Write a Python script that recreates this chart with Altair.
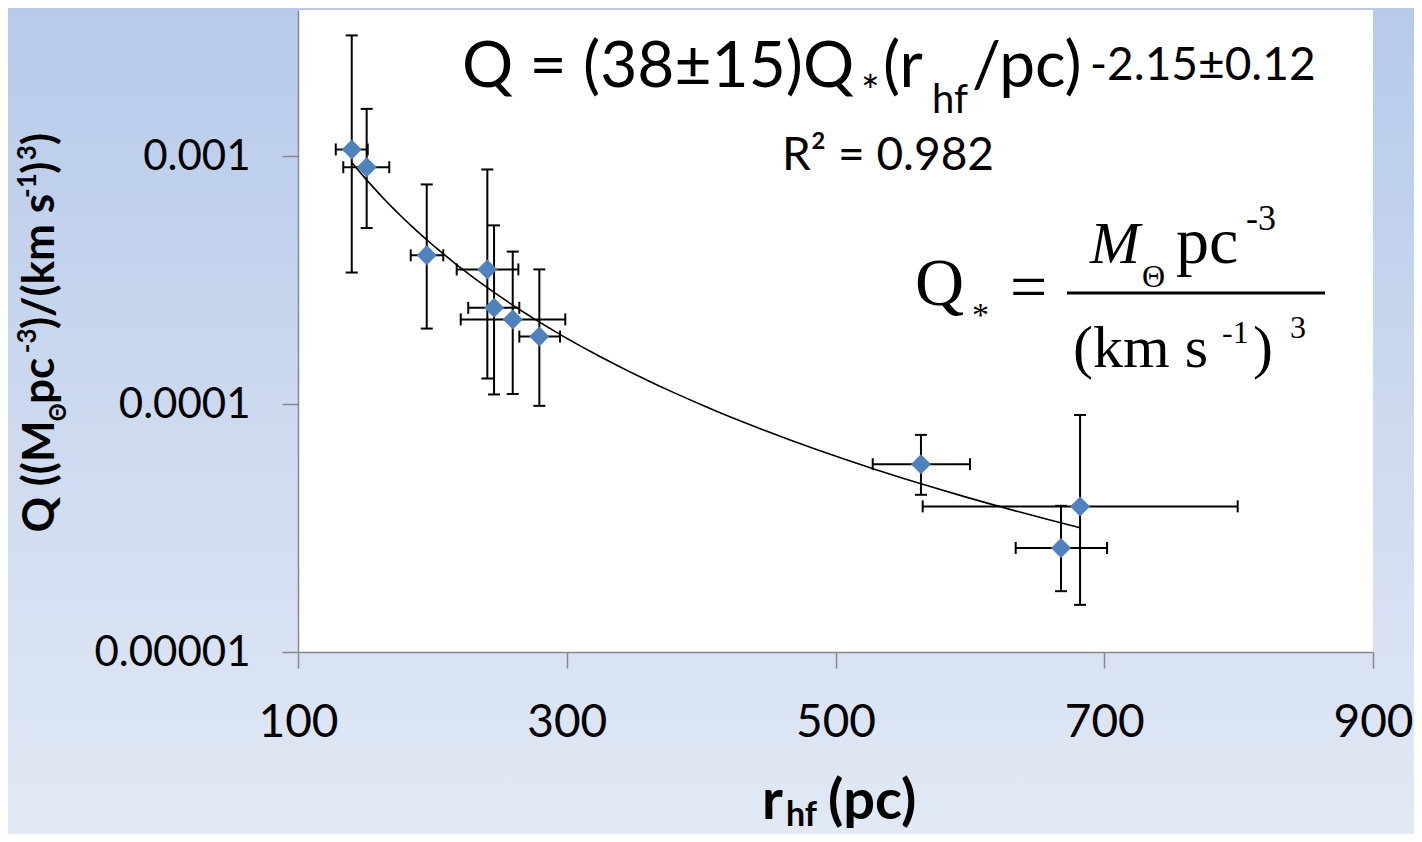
import altair as alt
import pandas as pd

# ---- data ----
r_pc  = [140.0, 151.1, 195.8, 240.9, 245.9, 259.8, 279.6, 563.6, 682.0, 667.8]
r_lo  = [128.1, 133.7, 183.9, 218.1, 226.7, 221.1, 264.7, 527.7, 564.9, 634.1]
r_hi  = [151.9, 167.9, 208.1, 264.0, 264.7, 298.9, 295.0, 600.1, 799.3, 702.1]
q_val = [1.067e-3, 9.05e-4, 3.99e-4, 3.50e-4, 2.45e-4, 2.20e-4, 1.875e-4, 5.73e-5, 3.87e-5, 2.63e-5]
q_lo  = [3.40e-4, 5.14e-4, 2.02e-4, 1.27e-4, 1.095e-4, 1.10e-4, 9.85e-5, 4.31e-5, 1.55e-5, 1.76e-5]
q_hi  = [3.08e-3, 1.556e-3, 7.71e-4, 8.86e-4, 5.27e-4, 4.13e-4, 3.50e-4, 7.52e-5, 9.05e-5, 3.89e-5]

x_ticks = [100, 300, 500, 700, 900]
y_ticks = [0.00001, 0.0001, 0.001]
x_domain = [100, 900]
y_domain = [0.00001, 0.0039]

df = pd.DataFrame({"r": r_pc, "rlo": r_lo, "rhi": r_hi,
                   "Q": q_val, "qlo": q_lo, "qhi": q_hi})
one = pd.DataFrame({"k": [0]})

W, H = 1075, 642
AX = "#898989"

xs = alt.Scale(domain=x_domain, nice=False, zero=False)
ys = alt.Scale(type="log", domain=y_domain, nice=False)
xaxis = alt.Axis(values=x_ticks, title="", grid=False, domainColor=AX, tickColor=AX,
                 tickSize=16, tickWidth=1.5, domainWidth=1.5, labelColor="black",
                 labelFont="Lato", labelFontSize=46, labelPadding=32, labelFlush=False,
                 zindex=1)
yaxis = alt.Axis(values=y_ticks, format=".5~f", title="", grid=False, domainColor=AX,
                 tickColor=AX, tickSize=16, tickWidth=1.5, domainWidth=1.5,
                 labelColor="black", labelFont="Lato", labelFontSize=42, labelPadding=32,
                 labelFlush=False, zindex=1)

def X(f):
    return alt.X(f"{f}:Q", scale=xs, axis=xaxis)

def Y(f):
    return alt.Y(f"{f}:Q", scale=ys, axis=yaxis)

base = alt.Chart(df)

# background gradient and white plot area
bg = alt.Chart(one).mark_rect(
    fill=alt.LinearGradient(gradient="linear",
                            stops=[alt.GradientStop(color="#b7caea", offset=0),
                                   alt.GradientStop(color="#e2e9f5", offset=1)],
                            x1=0, x2=0, y1=0, y2=1),
    strokeWidth=0).encode(x=alt.value(-290), x2=alt.value(1116),
                          y=alt.value(-2), y2=alt.value(824))
plot_bg = alt.Chart(one).mark_rect(fill="white", strokeWidth=0).encode(
    x=alt.value(0), x2=alt.value(W), y=alt.value(0), y2=alt.value(H))

vbar = base.mark_rule(color="black", strokeWidth=2).encode(x=X("r"), y=Y("qlo"), y2="qhi:Q")
hbar = base.mark_rule(color="black", strokeWidth=2).encode(x=X("rlo"), x2="rhi:Q", y=Y("Q"))

HCAP = "M-1,0L1,0"
VCAP = "M0,-1L0,1"
cap_kw = dict(filled=False, stroke="black", strokeWidth=2, size=144, opacity=1)
cap1 = base.mark_point(shape=HCAP, **cap_kw).encode(x=X("r"), y=Y("qlo"))
cap2 = base.mark_point(shape=HCAP, **cap_kw).encode(x=X("r"), y=Y("qhi"))
cap3 = base.mark_point(shape=VCAP, **cap_kw).encode(x=X("rlo"), y=Y("Q"))
cap4 = base.mark_point(shape=VCAP, **cap_kw).encode(x=X("rhi"), y=Y("Q"))

fit = base.transform_regression("r", "Q", method="pow").mark_line(
    color="black", strokeWidth=1.6).encode(x=X("r"), y=Y("Q"))

pts = base.mark_point(shape="diamond", filled=True, color="#4f81bd", size=400,
                      opacity=1).encode(x=X("r"), y=Y("Q"))


def txt(s, x, y, size, font="Lato", weight="normal", style="normal", angle=0):
    return alt.Chart(one).mark_text(
        text=s, font=font, fontSize=size, fontWeight=weight, fontStyle=style,
        angle=angle, align="left", baseline="alphabetic", color="black"
    ).encode(x=alt.value(x), y=alt.value(y))

OX, OY = 298, 10  # screen position of plot origin
def P(x, y):
    return x - OX, y - OY

texts = []
# fit equation
for s, sx, sy, sz in [("Q = (38\u00b115)Q", 462, 87, 64), ("*", 861, 107, 44),
                      ("(r", 883, 87, 64), ("hf", 932, 113, 40), ("/pc)", 972, 87, 64),
                      ("-2.15\u00b10.12", 1090, 80, 46)]:
    px, py = P(sx, sy)
    texts.append(txt(s, px, py, sz))
px, py = P(888, 170)
texts.append(alt.Chart(one).mark_text(text="R\u00b2 = 0.982", font="Lato", fontSize=46,
                                      align="center", baseline="alphabetic",
                                      color="black").encode(x=alt.value(px), y=alt.value(py)))

# Q* definition
SERIF = "Liberation Serif"
for s, sx, sy, sz, st in [("Q", 915, 305, 68, "normal"), ("*", 972, 326, 34, "normal"),
                          ("=", 1010, 309, 66, "normal"), ("M", 1090, 263, 60, "italic"),
                          ("\u0398", 1142, 287, 32, "normal"), ("pc", 1176, 263, 66, "normal"),
                          ("-3", 1246, 230, 36, "normal"), ("(km s", 1073, 367, 60, "normal"),
                          ("-1", 1222, 343, 32, "normal"), (")", 1253, 367, 60, "normal"),
                          ("3", 1290, 338, 32, "normal")]:
    px, py = P(sx, sy)
    texts.append(txt(s, px, py, sz, font=SERIF, style=st))
fx1, fy = P(1067, 293)
fx2, _ = P(1325, 293)
frac = alt.Chart(one).mark_rule(color="black", strokeWidth=3).encode(
    x=alt.value(fx1), x2=alt.value(fx2), y=alt.value(fy))

# x-axis title
for s, sx, sy, sz in [("r", 762, 819, 56), ("hf", 786, 826, 34), ("(pc)", 828, 819, 56)]:
    px, py = P(sx, sy)
    texts.append(txt(s, px, py, sz, weight="bold"))

# y-axis title (rotated, reading upward)
S, s_ = 44, 26
wid = {"Q": .78, " ": .193, "(": .309, ")": .309, "M": .94, "p": .56, "c": .40,
       "/": .345, "k": .544, "m": .85, "s": .43, "-": .35, "3": .58, "1": .58, "\u0398": .78}
segs = [("Q ((M", S, 0), ("\u0398", 22, 12), (" pc", S, 0), ("-3", s_, -18),
        (")/(km s", S, 0), ("-1", s_, -18), (")", S, 0), ("3", s_, -18), (")", S, 0)]
total = sum(sum(wid[c] for c in t) * sz for t, sz, _ in segs)
ypos = 332 + total / 2
for t, sz, dx in segs:
    px, py = P(54 + dx, ypos)
    texts.append(txt(t, px, py, sz, weight="bold", angle=270))
    ypos -= sum(wid[c] for c in t) * sz

chart = alt.layer(bg, plot_bg, vbar, hbar, cap1, cap2, cap3, cap4, fit, pts, frac, *texts).properties(
    width=W, height=H,
    autosize=alt.AutoSizeParams(type="none"),
    padding={"left": 290, "top": 2, "right": 41, "bottom": 182},
).configure_view(strokeWidth=0)

chart.save("out.html", embed_options={"renderer": "svg", "actions": False})
